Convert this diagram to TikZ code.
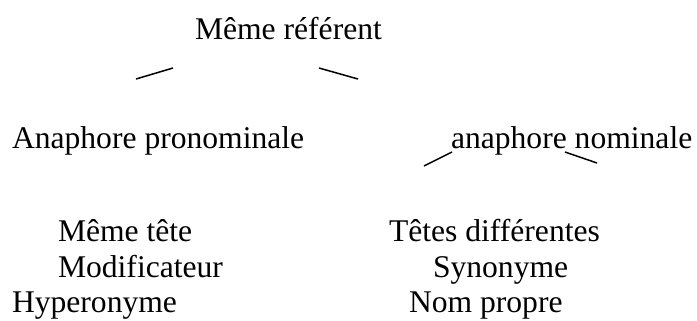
\documentclass[tikz,border=0pt]{standalone}
\usepackage{fontspec}
\setmainfont{Liberation Serif}
\begin{document}
\begin{tikzpicture}[x=0.5bp,y=-0.5bp,
  lbl/.style={anchor=base west,inner sep=0pt,outer sep=0pt,font=\fontsize{15.8bp}{19bp}\selectfont},
  link/.style={line width=0.75bp,line cap=butt}]
\useasboundingbox (0,0) rectangle (697,320);
\node[lbl] (root) at (195,39) {Même référent};
\node[lbl] (pron) at (12,148) {Anaphore pronominale};
\node[lbl] (nom) at (451,148) {anaphore nominale};
\node[lbl] (mt) at (58,241) {Même tête};
\node[lbl] (mod) at (58,277) {Modificateur};
\node[lbl] (hyp) at (12,312) {Hyperonyme};
\node[lbl] (td) at (389,241) {Têtes différentes};
\node[lbl] (syn) at (433,277) {Synonyme};
\node[lbl] (np) at (409,312) {Nom propre};
\coordinate (a1) at (136,79); \coordinate (a2) at (173,68);
\coordinate (b1) at (319,68); \coordinate (b2) at (358,79);
\coordinate (c1) at (424,166); \coordinate (c2) at (452,152);
\coordinate (d1) at (565,152); \coordinate (d2) at (597,163);
\draw[link] (a1) -- (a2);
\draw[link] (b1) -- (b2);
\draw[link] (c1) -- (c2);
\draw[link] (d1) -- (d2);
\end{tikzpicture}
\end{document}
